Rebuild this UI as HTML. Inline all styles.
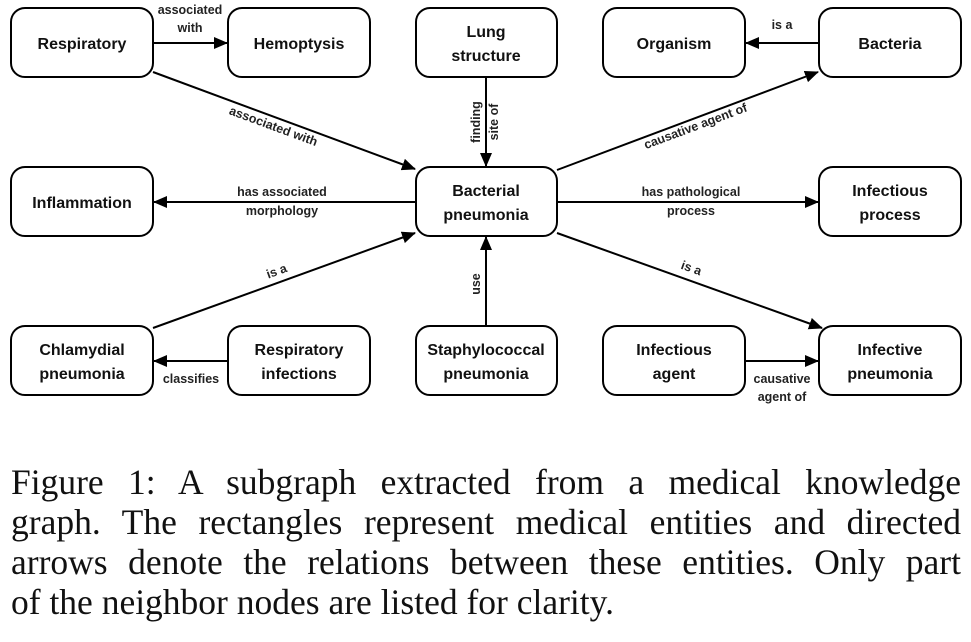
<!DOCTYPE html>
<html><head><meta charset="utf-8"><style>
body{margin:0;width:971px;height:642px;background:#fff;overflow:hidden;position:relative}
.cap{position:absolute;left:11px;top:462px;width:950px;font-family:"Liberation Serif",serif;font-size:35.5px;line-height:40px;color:#111}
.cap div{text-align:justify;text-align-last:justify;white-space:nowrap}
.cap div.l{text-align-last:left}
</style></head><body>
<svg width="971" height="440" style="position:absolute;left:0;top:0" font-family="Liberation Sans, sans-serif">
<defs><marker id="a" markerWidth="14" markerHeight="12" refX="13" refY="6" orient="auto" markerUnits="userSpaceOnUse"><path d="M0,0 L14,6 L0,12 z" fill="#000"/></marker></defs>
<g fill="#fff" stroke="#000" stroke-width="2">
<rect x="11" y="8" width="142" height="69" rx="14"/>
<rect x="228" y="8" width="142" height="69" rx="14"/>
<rect x="416" y="8" width="141" height="69" rx="14"/>
<rect x="603" y="8" width="142" height="69" rx="14"/>
<rect x="819" y="8" width="142" height="69" rx="14"/>
<rect x="11" y="167" width="142" height="69" rx="14"/>
<rect x="416" y="167" width="141" height="69" rx="14"/>
<rect x="819" y="167" width="142" height="69" rx="14"/>
<rect x="11" y="326" width="142" height="69" rx="14"/>
<rect x="228" y="326" width="142" height="69" rx="14"/>
<rect x="416" y="326" width="141" height="69" rx="14"/>
<rect x="603" y="326" width="142" height="69" rx="14"/>
<rect x="819" y="326" width="142" height="69" rx="14"/>
</g>
<g stroke="#000" stroke-width="2" marker-end="url(#a)">
<line x1="153" y1="43" x2="227" y2="43"/>
<line x1="153" y1="72" x2="415" y2="169"/>
<line x1="486" y1="77" x2="486" y2="166"/>
<line x1="819" y1="43" x2="746" y2="43"/>
<line x1="557" y1="170" x2="818" y2="72"/>
<line x1="416" y1="202" x2="154" y2="202"/>
<line x1="557" y1="202" x2="818" y2="202"/>
<line x1="557" y1="233" x2="822" y2="328"/>
<line x1="153" y1="328" x2="415" y2="233"/>
<line x1="486" y1="326" x2="486" y2="237"/>
<line x1="228" y1="361" x2="154" y2="361"/>
<line x1="745" y1="361" x2="818" y2="361"/>
</g>
<g font-size="16" font-weight="bold" text-anchor="middle" fill="#111">
<text x="82" y="49">Respiratory</text>
<text x="299" y="49">Hemoptysis</text>
<text x="486" y="37">Lung</text><text x="486" y="61">structure</text>
<text x="674" y="49">Organism</text>
<text x="890" y="49">Bacteria</text>
<text x="82" y="208">Inflammation</text>
<text x="486" y="196">Bacterial</text><text x="486" y="220">pneumonia</text>
<text x="890" y="196">Infectious</text><text x="890" y="220">process</text>
<text x="82" y="355">Chlamydial</text><text x="82" y="379">pneumonia</text>
<text x="299" y="355">Respiratory</text><text x="299" y="379">infections</text>
<text x="486" y="355">Staphylococcal</text><text x="486" y="379">pneumonia</text>
<text x="674" y="355">Infectious</text><text x="674" y="379">agent</text>
<text x="890" y="355">Infective</text><text x="890" y="379">pneumonia</text>
</g>
<g font-size="12.5" font-weight="bold" text-anchor="middle" fill="#222">
<text x="190" y="14">associated</text><text x="190" y="32">with</text>
<text x="272" y="130" transform="rotate(20.3 272 130)">associated with</text>
<text x="480" y="122" transform="rotate(-90 480 122)">finding</text>
<text x="498" y="122" transform="rotate(-90 498 122)">site of</text>
<text x="782" y="29">is a</text>
<text x="697" y="130" transform="rotate(-20.5 697 130)">causative agent of</text>
<text x="282" y="196">has associated</text><text x="282" y="215">morphology</text>
<text x="691" y="196">has pathological</text><text x="691" y="215">process</text>
<text x="690" y="272" transform="rotate(19.7 690 272)">is a</text>
<text x="278" y="275" transform="rotate(-20 278 275)">is a</text>
<text x="480" y="284" transform="rotate(-90 480 284)">use</text>
<text x="191" y="383">classifies</text>
<text x="782" y="383">causative</text><text x="782" y="401">agent of</text>
</g>
</svg>
<div class="cap">
<div>Figure 1: A subgraph extracted from a medical knowledge</div>
<div>graph. The rectangles represent medical entities and directed</div>
<div>arrows denote the relations between these entities. Only part</div>
<div class="l">of the neighbor nodes are listed for clarity.</div>
</div>
</body></html>
